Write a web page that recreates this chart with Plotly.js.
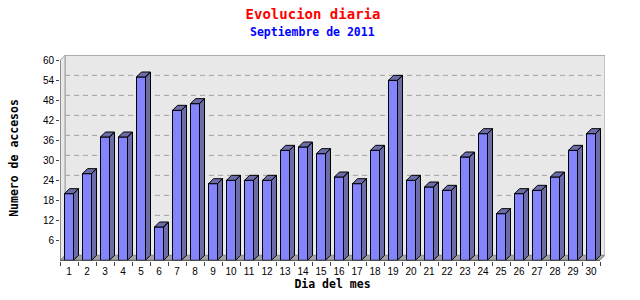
<!DOCTYPE html>
<html>
<head>
<meta charset="utf-8">
<script src="https://cdn.plot.ly/plotly-3.0.1.min.js"></script>
<style>html,body{margin:0;padding:0;background:#fff;}#chart{width:640px;height:300px;}</style>
</head>
<body>
<div id="chart"></div>
<script>
const days = [1,2,3,4,5,6,7,8,9,10,11,12,13,14,15,16,17,18,19,20,21,22,23,24,25,26,27,28,29,30];
const accesos = [20,26,37,37,55,10,45,47,23,24,24,24,33,34,32,25,23,33,54,24,22,21,31,38,14,20,21,25,33,38];
const yTicks = [6,12,18,24,30,36,42,48,54,60];
const dayLabels = days.map(String);

// 3D look: depth offset in data units (5px horizontally / vertically)
const BW = 0.5;
const DX = 5/18;
const DY = 1.5;
const X0 = 0.5, X1 = 30.5, YMAX = 60;

// side + top faces built from the data
const sx = [], sy = [];
days.forEach((d, i) => {
  const v = accesos[i];
  const l = d - BW/2, r = d + BW/2;
  sx.push(r, r+DX, r+DX, r, r, null);
  sy.push(0, DY, v+DY, v, 0, null);
  sx.push(l, l+DX, r+DX, r, l, null);
  sy.push(v, v+DY, v+DY, v, v, null);
});

const traces = [
  {type:'bar', x: days, y: accesos, width: BW,
   marker:{color:'#8484ff', line:{color:'#000', width:1}}, hoverinfo:'skip', showlegend:false},
  {type:'scatter', mode:'lines', x: sx, y: sy, fill:'toself', fillcolor:'#6c6ca8',
   line:{color:'#000', width:1}, hoverinfo:'skip', showlegend:false}
];

const shapes = [];
shapes.push({type:'rect', xref:'x', yref:'y', x0:X0+DX, x1:X1+DX, y0:DY, y1:YMAX+DY,
  fillcolor:'#e8e8e8', line:{color:'#a0a0a0', width:1}, layer:'below'});
shapes.push({type:'path', xref:'x', yref:'y',
  path:`M${X0},0 L${X0+DX},${DY} L${X0+DX},${YMAX+DY} L${X0},${YMAX} Z`,
  fillcolor:'#e8e8e8', line:{color:'#a0a0a0', width:1}, layer:'below'});
shapes.push({type:'path', xref:'x', yref:'y',
  path:`M${X0},0 L${X0+DX},${DY} L${X1+DX},${DY} L${X1},0 Z`,
  fillcolor:'#a4a4a4', line:{color:'#909090', width:1}, layer:'below'});
yTicks.filter(t => t < YMAX).forEach(t => {
  shapes.push({type:'line', xref:'x', yref:'y', x0:X0+DX, x1:X1+DX, y0:t+DY, y1:t+DY,
    line:{color:'#a0a0a0', width:1, dash:'5px,4px'}, layer:'below'});
});
shapes.push({type:'line', xref:'x', yref:'y', x0:X0, x1:X0, y0:0, y1:YMAX,
  line:{color:'#555', width:1}, layer:'above'});
shapes.push({type:'line', xref:'x', yref:'y', x0:X0, x1:X1, y0:0, y1:0,
  line:{color:'#555', width:1}, layer:'above'});

const monoBold = 'DejaVu Sans Mono';
const layout = {
  width:640, height:300,
  margin:{l:60, r:35, t:55, b:39, pad:0},
  paper_bgcolor:'#fff', plot_bgcolor:'#fff',
  showlegend:false,
  bargap:0,
  title:{text:'<b>Evolucion diaria</b>', font:{family:monoBold, size:14, color:'#ff0000'},
    x:313/640, xref:'container', xanchor:'center', y:1-14/300, yref:'container', yanchor:'middle'},
  annotations:[
    {text:'<b>Septiembre de 2011</b>', xref:'paper', yref:'paper', x:(312-60)/545, xanchor:'center',
     y:1 + (55-32)/206, yanchor:'middle', showarrow:false,
     font:{family:monoBold, size:11.5, color:'#0000ff'}}
  ],
  xaxis:{
    range:[0.5, 0.5 + 545/18], tickmode:'array', tickvals:days, ticktext:dayLabels,
    ticks:'outside', ticklen:1, tickcolor:'rgba(0,0,0,0)',
    minor:{tickmode:'linear', tick0:0.5, dtick:1, ticks:'outside', ticklen:4, tickcolor:'#444', showgrid:false},
    showgrid:false, zeroline:false, showline:false,
    tickfont:{family:'Liberation Sans', size:10, color:'#000'},
    title:{text:'<b>Dia del mes</b>', font:{family:monoBold, size:11.5, color:'#000'}, standoff:1},
    fixedrange:true
  },
  yaxis:{
    range:[-0.2, 61.6], tickmode:'array', tickvals:yTicks,
    ticks:'outside', ticklen:3, tickcolor:'#444',
    showgrid:false, zeroline:false, showline:false,
    tickfont:{family:'Liberation Sans', size:10, color:'#000'},
    title:{text:'<b>Numero de accesos</b>', font:{family:monoBold, size:11.5, color:'#000'}, standoff:21},
    fixedrange:true
  },
  shapes: shapes
};

Plotly.newPlot('chart', traces, layout, {staticPlot:true, displayModeBar:false});
</script>
</body>
</html>
